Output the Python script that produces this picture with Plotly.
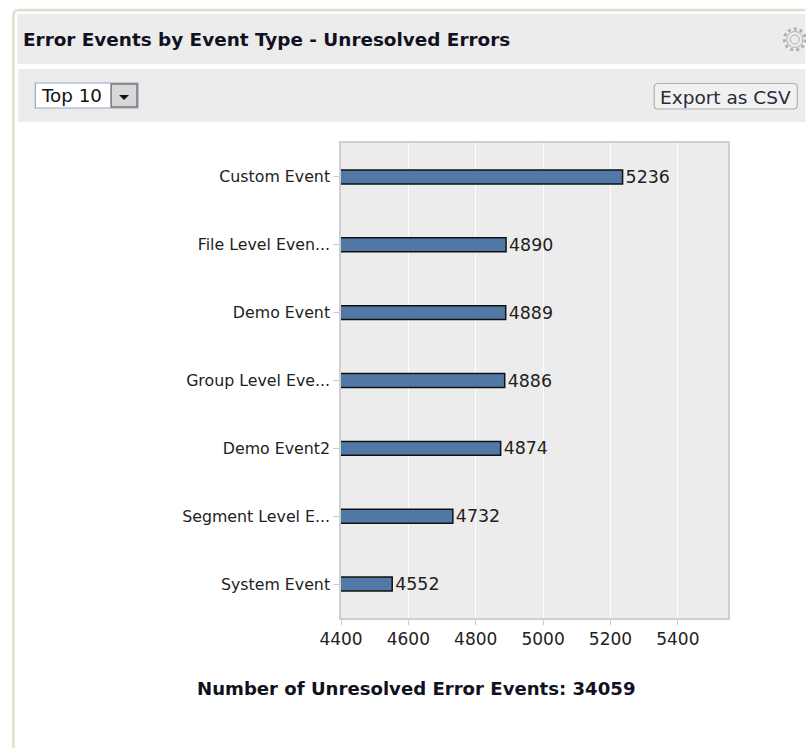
import plotly.graph_objects as go

categories = ["Custom Event", "File Level Even...", "Demo Event", "Group Level Eve...",
              "Demo Event2", "Segment Level E...", "System Event"]
values = [5236, 4890, 4889, 4886, 4874, 4732, 4552]
x_ticks = [4400, 4600, 4800, 5000, 5200, 5400]
title_text = "Error Events by Event Type - Unresolved Errors"
footer_text = "Number of Unresolved Error Events: 34059"

W, H = 806, 748
L, R, T, B = 340.5, 728.5, 143, 618
FONT = "DejaVu Sans"

def px(x):
    return (x - L) / (R - L)

def py(y):
    return (B - y) / (B - T)

fig = go.Figure(go.Bar(
    y=categories, x=values, orientation="h", width=0.205,
    marker=dict(color="#5279a6", line=dict(color="#111111", width=1.5)),
    text=[str(v) for v in values], textposition="outside", cliponaxis=False,
    textfont=dict(family=FONT, size=17.4, color="#222222"),
    constraintext="none",
))

shapes = []

def rect(x0, y0, x1, y1, fill, line=None, lw=1, layer="below"):
    shapes.append(dict(type="rect", xref="paper", yref="paper", x0=px(x0), x1=px(x1),
                       y0=py(y0), y1=py(y1), fillcolor=fill, layer=layer,
                       line=dict(color=line or fill, width=lw if line else 0)))

def round_rect(x0, y0, x1, y1, r, fill, line, lw):
    p = (f"M {px(x0+r)} {py(y0)} L {px(x1-r)} {py(y0)} Q {px(x1)} {py(y0)} {px(x1)} {py(y0+r)} "
         f"L {px(x1)} {py(y1-r)} Q {px(x1)} {py(y1)} {px(x1-r)} {py(y1)} L {px(x0+r)} {py(y1)} "
         f"Q {px(x0)} {py(y1)} {px(x0)} {py(y1-r)} L {px(x0)} {py(y0+r)} Q {px(x0)} {py(y0)} {px(x0+r)} {py(y0)} Z")
    shapes.append(dict(type="path", xref="paper", yref="paper", layer="below", path=p,
                       fillcolor=fill, line=dict(color=line, width=lw)))

# outer card border
shapes.append(dict(type="path", xref="paper", yref="paper", layer="below",
                   path=f"M {px(12)} {py(748)} L {px(12)} {py(16)} Q {px(12)} {py(10)} {px(18)} {py(10)} L {px(806)} {py(10)}",
                   line=dict(color="#e0dfcc", width=2.5)))
rect(16, 14, 806, 64, "#ececec")
rect(17, 69, 806, 122, "#ececec")
# select control
rect(34, 83, 137, 108, "#ffffff", "#8fa8c8", 1.2)
rect(110, 84, 136, 107, "#d8d8d8", "#777777", 1.5)
shapes.append(dict(type="path", xref="paper", yref="paper",
                   path=f"M {px(118)} {py(95)} L {px(128)} {py(95)} L {px(123)} {py(100)} Z",
                   fillcolor="#111111", line=dict(width=0)))
# export button
round_rect(654.5, 83.5, 798, 109, 4, "#f1f1f1", "#b0b0b0", 1.2)
# gear
shapes.append(dict(type="circle", xref="paper", yref="paper", x0=px(785), x1=px(806),
                   y0=py(50), y1=py(29), line=dict(color="#b0b0b0", width=3, dash="3px,3px")))
shapes.append(dict(type="circle", xref="paper", yref="paper", x0=px(787.5), x1=px(803.5),
                   y0=py(47.5), y1=py(31.5), line=dict(color="#b0b0b0", width=1)))
shapes.append(dict(type="circle", xref="paper", yref="paper", x0=px(791), x1=px(800),
                   y0=py(44), y1=py(35), line=dict(color="#b0b0b0", width=1)))

def note(text, x, y, size=14, color="#222222", bold=False, anchor="left"):
    return dict(text=f"<b>{text}</b>" if bold else text, xref="paper", yref="paper",
                x=px(x), y=py(y), xanchor=anchor, yanchor="middle", showarrow=False,
                font=dict(family=FONT, size=size, color=color))

annotations = [
    note(title_text, 20, 39, 18.4, "#111122", True),
    note("Top 10", 38, 96, 18.3, "#111111"),
    note("Export as CSV", 726, 97, 18.5, "#2a2a3a", anchor="center"),
    note(footer_text, 415.5, 688, 18.1, "#111122", True, "center"),
]

fig.update_layout(
    width=W, height=H, autosize=False,
    margin=dict(l=L, r=W - R, t=T, b=H - B, pad=0),
    paper_bgcolor="#ffffff", plot_bgcolor="#ececec",
    showlegend=False, shapes=shapes, annotations=annotations,
    bargap=0.8,
    xaxis=dict(range=[4400, 5549], tickvals=x_ticks, showgrid=True, gridcolor="#ffffff",
               gridwidth=1.2, zeroline=False, ticks="outside", ticklen=5, tickcolor="#cccccc",
               showline=True, linecolor="#cfcfcf", linewidth=1.5, mirror=True,
               tickfont=dict(family=FONT, size=17, color="#222222")),
    yaxis=dict(autorange="reversed", showgrid=False, zeroline=False, ticks="outside",
               ticklen=6, tickcolor="#cccccc", showline=True, linecolor="#cfcfcf",
               linewidth=1.5, mirror=True,
               tickfont=dict(family=FONT, size=15.8, color="#222222")),
)

fig.write_html("out.html", config={"displayModeBar": False},
               post_script="document.body.style.margin='0';document.body.style.overflow='hidden';")
